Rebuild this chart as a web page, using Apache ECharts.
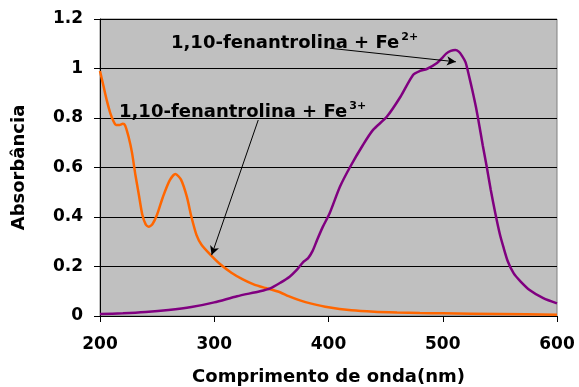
<!DOCTYPE html>
<html>
<head>
<meta charset="utf-8">
<script src="https://cdn.jsdelivr.net/npm/echarts@6/dist/echarts.min.js"></script>
<style>
  html, body { margin: 0; padding: 0; background: #fff; }
  #chart { width: 579px; height: 387px; }
</style>
</head>
<body>
<div id="chart"></div>
<script>
// Absorption spectra of 1,10-phenanthroline complexes (wavelength in nm, absorbance)
const fe3Wavelength = [200, 203, 206, 209, 212, 214, 217, 220, 222, 225, 228, 231, 234, 237, 240, 242.5, 246, 250, 255, 261, 266, 271, 276, 280, 284.5, 289, 297, 305, 315, 325, 335, 345, 352, 358, 365, 375, 385, 400, 420, 440, 460, 480, 500, 550, 600];
const fe3Absorbance = [0.99, 0.93, 0.87, 0.82, 0.785, 0.772, 0.772, 0.777, 0.77, 0.724, 0.66, 0.57, 0.49, 0.41, 0.37, 0.361, 0.372, 0.41, 0.48, 0.548, 0.574, 0.55, 0.482, 0.401, 0.327, 0.287, 0.246, 0.21, 0.175, 0.148, 0.127, 0.113, 0.104, 0.095, 0.08, 0.063, 0.05, 0.035, 0.023, 0.017, 0.014, 0.012, 0.011, 0.008, 0.005];

const fe2Wavelength = [200, 220, 240, 260, 280, 300, 320, 340, 349, 358, 366, 372, 378, 382, 386, 390, 395, 401, 410, 419, 430, 439, 451, 463, 474, 480, 486, 495, 500, 503, 507, 511, 514, 517, 520, 523, 526, 529, 532, 535, 538.5, 542, 546, 550, 553, 557, 562, 568, 576, 588, 600];
const fe2Absorbance = [0.008, 0.011, 0.016, 0.024, 0.036, 0.055, 0.08, 0.1, 0.112, 0.135, 0.159, 0.185, 0.219, 0.233, 0.262, 0.307, 0.36, 0.415, 0.522, 0.603, 0.69, 0.752, 0.805, 0.886, 0.974, 0.99, 0.998, 1.022, 1.045, 1.06, 1.071, 1.075, 1.068, 1.05, 1.025, 0.97, 0.91, 0.845, 0.77, 0.69, 0.603, 0.51, 0.415, 0.33, 0.28, 0.22, 0.173, 0.14, 0.105, 0.072, 0.051];

// Arrow endpoints for the two callouts, in [wavelength, absorbance]
const fe2ArrowFrom = [401, 1.082];
const fe2ArrowTo = [511.5, 1.027];
const fe3ArrowFrom = [338.5, 0.792];
const fe3ArrowTo = [297.7, 0.246];

const xTicks = { min: 200, max: 600, interval: 100 };
const yTicks = { min: 0, max: 1.2, interval: 0.2 };

const pairs = (xs, ys) => xs.map((x, i) => [x, ys[i]]);

const FONT = 'DejaVu Sans';
const chart = echarts.init(document.getElementById('chart'), null, { renderer: 'canvas' });

const calloutRich = {
  m: { fontFamily: FONT, fontWeight: 'bold', fontSize: 18, color: '#000', lineHeight: 22 },
  s: { fontFamily: FONT, fontWeight: 'bold', fontSize: 11, color: '#000', lineHeight: 22, verticalAlign: 'top', padding: [0, 0, 8, 2] }
};

chart.setOption({
  animation: false,
  backgroundColor: '#ffffff',
  grid: {
    left: 100, right: 22, top: 19, bottom: 71,
    outerBoundsMode: 'none', containLabel: false,
    show: true, backgroundColor: '#C0C0C0', borderColor: '#808080', borderWidth: 1
  },
  xAxis: {
    type: 'value',
    min: xTicks.min, max: xTicks.max, interval: xTicks.interval,
    name: 'Comprimento de onda(nm)',
    nameLocation: 'middle', nameGap: 52,
    nameTextStyle: { fontFamily: FONT, fontWeight: 'bold', fontSize: 18, color: '#000' },
    axisLine: { lineStyle: { color: '#000', width: 1 } },
    axisTick: { show: true, length: 6, lineStyle: { color: '#000' } },
    axisLabel: { margin: 20, fontFamily: FONT, fontWeight: 'bold', fontSize: 17, color: '#000' },
    splitLine: { show: false }
  },
  yAxis: {
    type: 'value',
    min: yTicks.min, max: yTicks.max, interval: yTicks.interval,
    name: 'Absorbância',
    nameLocation: 'middle', nameGap: 72,
    nameTextStyle: { fontFamily: FONT, fontWeight: 'bold', fontSize: 18, color: '#000' },
    axisLine: { show: true, lineStyle: { color: '#000', width: 1 } },
    axisTick: { show: true, length: 6, lineStyle: { color: '#000' } },
    axisLabel: { margin: 17, fontFamily: FONT, fontWeight: 'bold', fontSize: 17, color: '#000' },
    splitLine: { show: true, lineStyle: { color: '#000', width: 1 } }
  },
  series: [
    {
      name: 'Fe3+',
      type: 'line',
      data: pairs(fe3Wavelength, fe3Absorbance),
      smooth: 0.25,
      showSymbol: false,
      lineStyle: { color: '#FF6600', width: 2.5 },
      markLine: {
        silent: true,
        symbol: ['none', 'arrow'], symbolSize: [7, 9],
        label: { show: false },
        lineStyle: { color: '#000', width: 1, type: 'solid' },
        data: [[{ coord: fe3ArrowFrom }, { coord: fe3ArrowTo }]]
      }
    },
    {
      name: 'Fe2+',
      type: 'line',
      data: pairs(fe2Wavelength, fe2Absorbance),
      smooth: 0.25,
      showSymbol: false,
      lineStyle: { color: '#800080', width: 2.5 },
      markLine: {
        silent: true,
        symbol: ['none', 'arrow'], symbolSize: [7, 9],
        label: { show: false },
        lineStyle: { color: '#000', width: 1, type: 'solid' },
        data: [[{ coord: fe2ArrowFrom }, { coord: fe2ArrowTo }]]
      }
    }
  ],
  graphic: [
    {
      type: 'text', left: 171, top: 32, z: 10,
      style: { text: '{m|1,10-fenantrolina + Fe}{s|2+}', rich: calloutRich }
    },
    {
      type: 'text', left: 119, top: 101, z: 10,
      style: { text: '{m|1,10-fenantrolina + Fe}{s|3+}', rich: calloutRich }
    }
  ]
});
</script>
</body>
</html>
